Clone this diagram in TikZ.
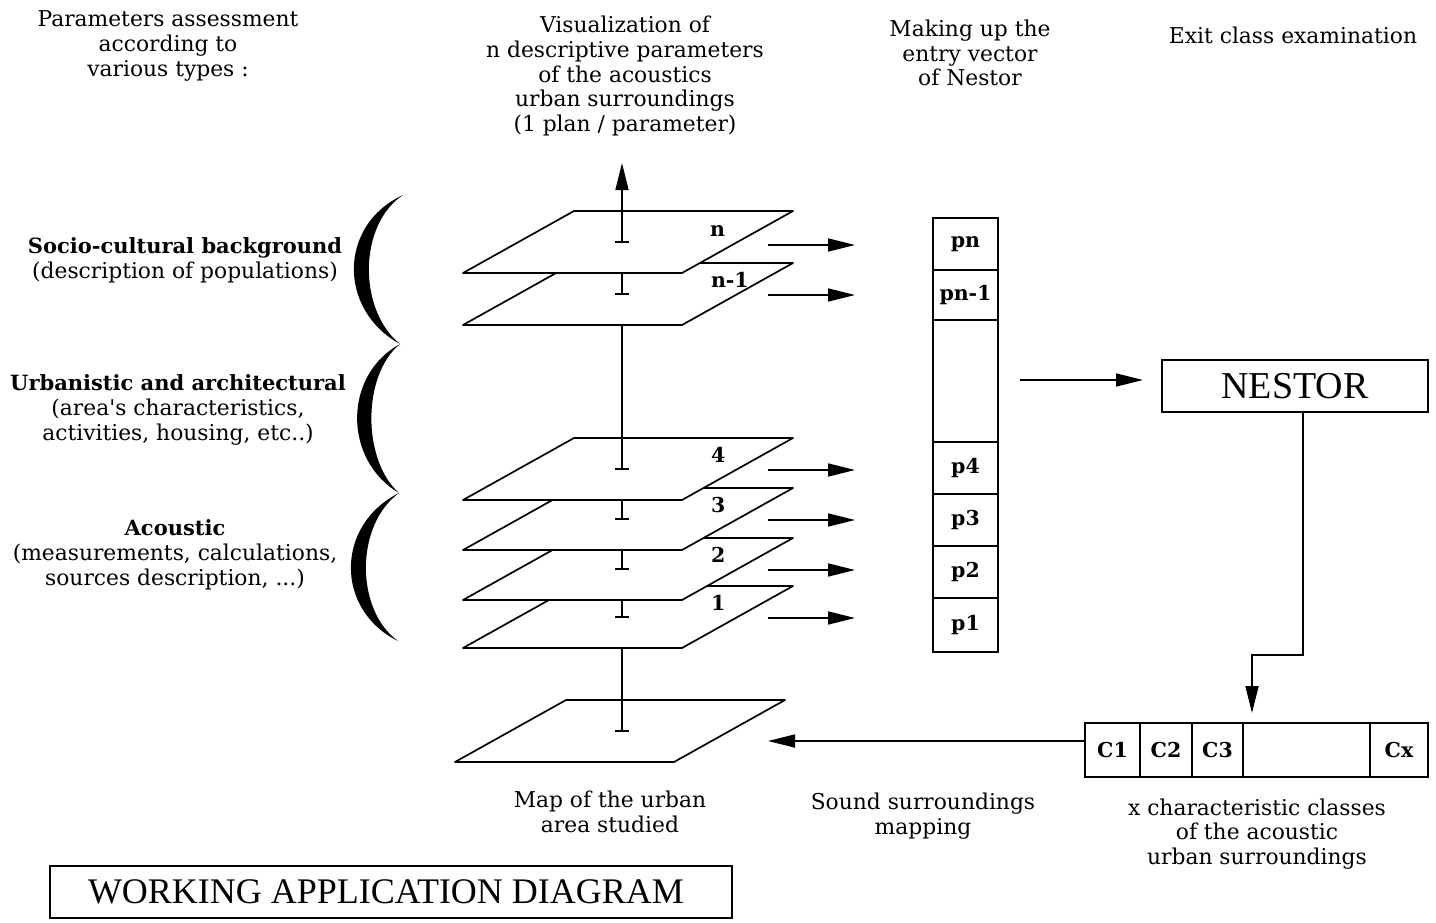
\documentclass[tikz,border=0pt]{standalone}
\usepackage{fontspec}
\setmainfont{DejaVu Serif}
\newfontfamily\timesfont{Liberation Serif}
\usetikzlibrary{arrows.meta,positioning}

\begin{document}
\begin{tikzpicture}[x=1pt,y=-1pt,line width=1.7pt,
  every node/.style={inner sep=0pt,outer sep=0pt},
  arr/.style={-{Triangle[length=27pt,width=13pt]}},
  txt/.style={align=center,font=\fontsize{21.8}{24.8}\selectfont},
  cell/.style={draw,minimum width=65pt,minimum height=52pt,font=\bfseries\fontsize{20.5}{22}\selectfont},
  cls/.style={draw,minimum height=54pt,font=\bfseries\fontsize{20.5}{22}\selectfont},
  plane/.style={draw,fill=white,line join=round}]
  \fill[white] (0,0) rectangle (1436,922);
  \useasboundingbox (0,0) rectangle (1436,922);

  % column titles
  \node[txt] (t1) at (168,46) {Parameters assessment\\according to\\various types :};
  \node[txt] (t2) at (625,76) {Visualization of\\n descriptive parameters\\of the acoustics\\urban surroundings\\(1 plan / parameter)};
  \node[txt] (t3) at (970,53) {Making up the\\entry vector\\of Nestor};
  \node[txt] (t4) at (1293,35) {Exit class examination};

  % parameter types
  \node[txt] (socio) at (185,260) {{\bfseries\fontsize{21}{24.8}\selectfont Socio-cultural background}\\(description of populations)};
  \node[txt] (urban) at (178,410) {{\bfseries\fontsize{21}{24.8}\selectfont Urbanistic and architectural}\\(area\textquotesingle s characteristics,\\activities, housing, etc..)};
  \node[txt] (acous) at (175,555) {{\bfseries\fontsize{21}{24.8}\selectfont Acoustic}\\(measurements, calculations,\\sources description, ...)};

  \fill (403,195) .. controls (338,225) and (338,310) .. (400,344)
                  .. controls (358,310) and (358,225) .. (403,195);
  \fill (400,344) .. controls (343,375) and (343,460) .. (399,493)
                  .. controls (362,460) and (362,375) .. (400,344);
  \fill (399,493) .. controls (335,525) and (335,610) .. (398,641)
                  .. controls (355,610) and (355,525) .. (399,493);

  % map of the urban area
  \draw[plane] (455,762) -- (674,762) -- (785,700) -- (566,700) -- cycle;
  \draw (622,731) -- (622,648);
  \draw (615,731) -- (629,731);

  % stacked plans
  \foreach \yb/\lab/\up in {648/1/600, 600/2/550, 550/3/500, 500/4/325, 325/n-1/273} {
    \draw[plane] (463,\yb) -- (682,\yb) -- (793,\yb-62) -- (574,\yb-62) -- cycle;
    \draw (622,\yb-31) -- (622,\up);
    \draw (615,\yb-31) -- (629,\yb-31);
    \node[anchor=west,font=\bfseries\fontsize{20.5}{22}\selectfont] at (711,\yb-45) {\lab};
    \coordinate (a\lab) at (768,\yb-30);
    \coordinate (b\lab) at (855,\yb-30);
    \draw[arr,line width=1.4pt] (a\lab) -- (b\lab);
  }
  \draw[plane] (463,273) -- (682,273) -- (793,211) -- (574,211) -- cycle;
  \coordinate (top) at (622,163);
  \draw[arr] (622,242) -- (top);
  \draw (615,242) -- (629,242);
  \node[anchor=west,font=\bfseries\fontsize{20.5}{22}\selectfont] at (710,231) {n};
  \coordinate (an) at (768,245);
  \coordinate (bn) at (855,245);
  \draw[arr,line width=1.4pt] (an) -- (bn);

  % entry vector
  \node[cell] (pn) at (965.5,244) {pn};
  \node[cell,below=0pt of pn,minimum height=50pt] (pn1) {pn-1};
  \node[cell,below=0pt of pn1,minimum height=122pt] (pgap) {};
  \node[cell,below=0pt of pgap] (p4) {p4};
  \node[cell,below=0pt of p4] (p3) {p3};
  \node[cell,below=0pt of p3] (p2) {p2};
  \node[cell,below=0pt of p2,minimum height=54pt] (p1) {p1};

  \node[draw,minimum width=266pt,minimum height=52pt,font=\timesfont\fontsize{38}{38}\selectfont] (nestor) at (1295,386) {NESTOR};
  \coordinate (vout) at (1020,380);
  \coordinate (nin) at (1143,380);
  \draw[arr,line width=1.4pt] (vout) -- (nin);

  % exit classes
  \node[cls,minimum width=55pt] (c1) at (1112.5,750) {C1};
  \node[cls,minimum width=52pt,right=0pt of c1] (c2) {C2};
  \node[cls,minimum width=51pt,right=0pt of c2] (c3) {C3};
  \node[cls,minimum width=127pt,right=0pt of c3] (cgap) {};
  \node[cls,minimum width=58pt,right=0pt of cgap] (cx) {Cx};

  \coordinate (bend) at (1252,655);
  \draw[arr] ([xshift=8pt]nestor.south) |- (bend) -- ([yshift=10pt]bend |- cgap.north);
  \coordinate (mapin) at (768,741);
  \draw[arr] (mapin -| c1.west) -- (mapin);

  \node[txt] (lmap) at (610,812) {Map of the urban\\area studied};
  \node[txt] (lsound) at (923,816) {Sound surroundings\\mapping};
  \node[txt] (lcls) at (1257,834) {x characteristic classes\\of the acoustic\\urban surroundings};

  \node[draw,minimum width=682pt,minimum height=52pt,font=\timesfont\fontsize{36}{36}\selectfont] (title) at (391,892) {\hspace*{-10pt}WORKING APPLICATION DIAGRAM};
\end{tikzpicture}
\end{document}
